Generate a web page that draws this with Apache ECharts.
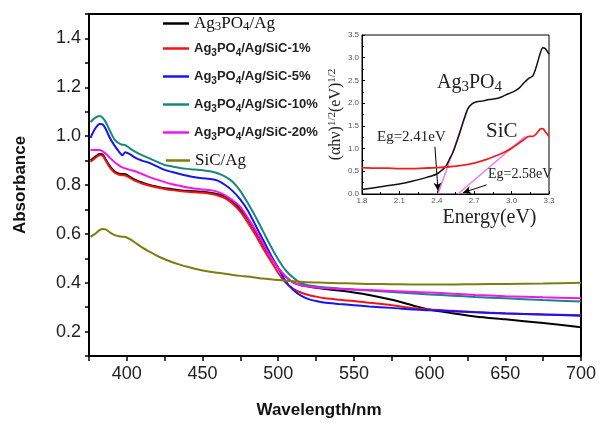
<!DOCTYPE html>
<html><head><meta charset="utf-8">
<script src="https://cdn.jsdelivr.net/npm/echarts@6/dist/echarts.min.js"></script>
<style>html,body{margin:0;padding:0;background:#fff}#c{width:600px;height:424px}</style>
</head><body><div id="c"></div>
<script>
// ---- main chart data ----
const wavelengths = [376,379,382,384,386,389,392,395,397,399,402,406,410,415,420,425,430,435,440,445,450,455,460,465,470,475,480,485,490,495,500,505,510,515,520,525,530,540,550,560,575,590,600,615,630,650,675,700];
const absAg3PO4Ag = [0.90,0.915,0.927,0.925,0.905,0.875,0.855,0.846,0.845,0.844,0.833,0.82,0.81,0.80,0.793,0.787,0.783,0.779,0.776,0.774,0.772,0.768,0.762,0.752,0.732,0.70,0.66,0.61,0.555,0.505,0.46,0.425,0.40,0.39,0.384,0.379,0.375,0.368,0.36,0.35,0.33,0.305,0.29,0.275,0.262,0.25,0.235,0.218];
const absSiC1 = [0.895,0.91,0.922,0.92,0.90,0.87,0.85,0.842,0.84,0.839,0.829,0.816,0.806,0.797,0.79,0.784,0.779,0.775,0.772,0.77,0.768,0.764,0.757,0.745,0.722,0.69,0.645,0.595,0.54,0.49,0.44,0.40,0.375,0.36,0.35,0.343,0.337,0.33,0.325,0.318,0.308,0.295,0.29,0.285,0.28,0.275,0.27,0.267];
const absSiC5 = [0.993,1.03,1.05,1.048,1.03,0.99,0.96,0.935,0.922,0.934,0.926,0.91,0.90,0.89,0.876,0.862,0.853,0.845,0.838,0.832,0.828,0.825,0.818,0.80,0.775,0.74,0.695,0.635,0.575,0.515,0.46,0.405,0.37,0.347,0.333,0.325,0.319,0.313,0.308,0.303,0.297,0.29,0.287,0.283,0.279,0.274,0.27,0.265];
const absSiC10 = [1.058,1.075,1.082,1.075,1.058,1.02,0.985,0.97,0.965,0.963,0.95,0.935,0.922,0.909,0.895,0.882,0.876,0.87,0.866,0.863,0.86,0.856,0.848,0.834,0.812,0.775,0.725,0.67,0.61,0.55,0.495,0.45,0.42,0.398,0.39,0.385,0.381,0.376,0.372,0.368,0.362,0.356,0.352,0.347,0.342,0.336,0.329,0.323];
const absSiC20 = [0.943,0.943,0.943,0.938,0.929,0.91,0.893,0.879,0.872,0.868,0.862,0.855,0.845,0.832,0.822,0.812,0.803,0.797,0.79,0.786,0.782,0.779,0.772,0.758,0.737,0.71,0.665,0.615,0.56,0.505,0.46,0.425,0.40,0.39,0.385,0.38,0.378,0.375,0.372,0.37,0.366,0.362,0.36,0.355,0.35,0.345,0.34,0.336];
const absSiCAg = [0.588,0.60,0.615,0.62,0.618,0.605,0.595,0.59,0.588,0.587,0.578,0.562,0.545,0.527,0.51,0.496,0.484,0.474,0.465,0.457,0.45,0.445,0.441,0.437,0.432,0.428,0.425,0.421,0.417,0.414,0.411,0.408,0.406,0.404,0.402,0.401,0.40,0.398,0.397,0.395,0.394,0.393,0.393,0.393,0.394,0.395,0.397,0.40];
const seriesNames = ['Ag3PO4/Ag','Ag3PO4/Ag/SiC-1%','Ag3PO4/Ag/SiC-5%','Ag3PO4/Ag/SiC-10%','Ag3PO4/Ag/SiC-20%','SiC/Ag'];
const seriesColors = ['#000000','#f51414','#1414f5','#16877c','#f514f0','#7d7d12'];
const seriesValues = [absAg3PO4Ag, absSiC1, absSiC5, absSiC10, absSiC20, absSiCAg];

// ---- inset data ----
const insetEnergyAg3PO4 = [1.80,1.90,2.00,2.10,2.20,2.30,2.35,2.40,2.43,2.46,2.48,2.50,2.53,2.56,2.59,2.62,2.65,2.68,2.72,2.77,2.82,2.88,2.93,2.97,3.02,3.06,3.10,3.14,3.17,3.20,3.23,3.25,3.27,3.30];
const insetAg3PO4 = [0.10,0.14,0.18,0.22,0.28,0.35,0.39,0.44,0.50,0.57,0.64,0.76,0.92,1.15,1.40,1.66,1.88,1.98,2.03,2.05,2.08,2.10,2.15,2.20,2.26,2.33,2.45,2.55,2.60,2.82,3.10,3.22,3.20,3.08];
const insetEnergySiC = [1.80,1.90,2.00,2.10,2.20,2.30,2.40,2.50,2.60,2.70,2.80,2.90,2.95,3.00,3.05,3.10,3.14,3.17,3.20,3.23,3.25,3.27,3.30];
const insetSiC = [0.58,0.57,0.57,0.56,0.56,0.57,0.58,0.60,0.63,0.68,0.76,0.87,0.93,1.01,1.10,1.20,1.27,1.27,1.33,1.43,1.44,1.37,1.27];
const tangentAg3PO4 = [[2.41,0],[2.64,1.80]];
const tangentSiC = [[2.57,0],[3.11,1.27]];
const arrowEg241 = [[2.385,1.04],[2.41,0.07]];
const arrowEg258 = [[2.80,0.20],[2.61,0.03]];

const SERIF = '"Liberation Serif", "Times New Roman", serif';
const SANS = '"Liberation Sans", Arial, sans-serif';

const chart = echarts.init(document.getElementById('c'), null, {renderer:'canvas'});

const mainSeries = seriesNames.map((n,i)=>({
  name: n, type:'line', xAxisIndex:0, yAxisIndex:0, showSymbol:false, symbol:'none',
  data: wavelengths.map((w,k)=>[w, seriesValues[i][k]]),
  lineStyle:{color:seriesColors[i], width:2}, itemStyle:{color:seriesColors[i]},
  smooth:0.3, z:2+i
}));

const legendRowCenters = [25,52,80,108,136,162];
const subRich = {
  b:{fontFamily:SANS, fontWeight:'bold', fontSize:13, color:'#222', lineHeight:20},
  s:{fontFamily:SANS, fontWeight:'bold', fontSize:10, color:'#222', lineHeight:14, verticalAlign:'bottom'}
};
const serifRich = {
  a:{fontFamily:SERIF, fontSize:17, color:'#111', lineHeight:20},
  d:{fontFamily:SERIF, fontSize:13, color:'#111', lineHeight:17, verticalAlign:'bottom'}
};
const legends = seriesNames.map((n,i)=>{
  let fmt, rich;
  if (i===0) { fmt = '{a|Ag}{d|3}{a|PO}{d|4}{a|/Ag}'; rich = serifRich; }
  else if (i===5) { fmt = '{a|SiC/Ag}'; rich = serifRich; }
  else { fmt = '{b|Ag}{s|3}{b|PO}{s|4}{b|' + n.slice(6) + '}'; rich = subRich; }
  return {
    data:[n], left: i===5 ? 166 : 163, top: legendRowCenters[i]-10, padding:0,
    icon:'rect', itemWidth: i===5 ? 24 : 26, itemHeight:2.5, itemGap:0,
    formatter: ()=>fmt, textStyle:{rich: rich}, selectedMode:false
  };
});

const option = {
  animation:false,
  backgroundColor:'#fff',
  grid:[
    {left:89, right:19, top:14, bottom:65, show:true, borderColor:'#000', borderWidth:2, containLabel:false},
    {left:362, top:35, width:187, height:159, show:true, borderColor:'#000', borderWidth:1, backgroundColor:'#fff'}
  ],
  legend: legends,
  xAxis:[
    {gridIndex:0, type:'value', min:375, max:700, interval:25,
     name:'Wavelength/nm', nameLocation:'middle', nameGap:46,
     nameTextStyle:{fontFamily:SANS, fontWeight:'bold', fontSize:17, color:'#111', padding:[0,32,0,0]},
     axisLine:{show:true, lineStyle:{color:'#000', width:2}},
     axisTick:{show:true, length:5, lineStyle:{color:'#000', width:1.5}},
     axisLabel:{fontFamily:SANS, fontSize:18, color:'#222', margin:9,
       formatter:(v)=> (Math.round(v)%50===0 ? String(Math.round(v)) : '')},
     splitLine:{show:false}},
    {gridIndex:1, type:'value', min:1.8, max:3.3, interval:0.3,
     name:'Energy(eV)', nameLocation:'middle', nameGap:14,
     nameTextStyle:{fontFamily:SERIF, fontSize:20, color:'#222', padding:[0,0,0,68]},
     axisLine:{show:true, lineStyle:{color:'#000', width:1}},
     axisTick:{show:true, inside:true, length:3, lineStyle:{color:'#000'}},
     minorTick:{show:true, splitNumber:2, length:2, lineStyle:{color:'#000'}},
     axisLabel:{fontFamily:SANS, fontSize:8, color:'#555', margin:3, formatter:(v)=>v.toFixed(1)},
     splitLine:{show:false}}
  ],
  yAxis:[
    {gridIndex:0, type:'value', min:0.1, max:1.5, interval:0.1,
     name:'Absorbance', nameLocation:'middle', nameGap:60, nameRotate:90,
     nameTextStyle:{fontFamily:SANS, fontWeight:'bold', fontSize:17, color:'#111'},
     axisLine:{show:true, lineStyle:{color:'#000', width:2}},
     axisTick:{show:true, length:4, lineStyle:{color:'#000', width:1.5}},
     axisLabel:{fontFamily:SANS, fontSize:18, color:'#222', margin:8,
       formatter:(v)=> (Math.round(v*10)%2===0 ? v.toFixed(1) : '')},
     splitLine:{show:false}},
    {gridIndex:1, type:'value', min:0, max:3.5, interval:0.5,
     name:'{a|(αhν)}{s|1/2}{a|(eV)}{s|1/2}', nameLocation:'middle', nameGap:12, nameRotate:90,
     nameTextStyle:{rich:{
       a:{fontFamily:SERIF, fontSize:16, color:'#222', lineHeight:18},
       s:{fontFamily:SERIF, fontSize:11, color:'#222', lineHeight:12, verticalAlign:'top'}}},
     axisLine:{show:true, lineStyle:{color:'#000', width:1}},
     axisTick:{show:true, inside:true, length:3, lineStyle:{color:'#000'}},
     minorTick:{show:true, splitNumber:2, length:2, lineStyle:{color:'#000'}},
     axisLabel:{fontFamily:SANS, fontSize:8, color:'#555', margin:3, formatter:(v)=>v.toFixed(1)},
     splitLine:{show:false}}
  ],
  series: mainSeries.concat([
    {name:'inset-Ag3PO4', type:'line', xAxisIndex:1, yAxisIndex:1, symbol:'none', smooth:0.3,
     data: insetEnergyAg3PO4.map((e,k)=>[e, insetAg3PO4[k]]), lineStyle:{color:'#111', width:1.5}, z:5,
     markLine:{silent:true, symbol:['none','arrow'], symbolSize:[6,8], label:{show:false},
       lineStyle:{color:'#000', width:1, type:'solid'},
       data:[[{coord:arrowEg241[0]},{coord:arrowEg241[1]}],[{coord:arrowEg258[0]},{coord:arrowEg258[1]}]]}},
    {name:'inset-SiC', type:'line', xAxisIndex:1, yAxisIndex:1, symbol:'none', smooth:0.3,
     data: insetEnergySiC.map((e,k)=>[e, insetSiC[k]]), lineStyle:{color:'#f02020', width:1.8}, z:5},
    {name:'tangent-Ag3PO4', type:'line', xAxisIndex:1, yAxisIndex:1, symbol:'none',
     data: tangentAg3PO4, lineStyle:{color:'#ee80ee', width:1.5}, z:4},
    {name:'tangent-SiC', type:'line', xAxisIndex:1, yAxisIndex:1, symbol:'none',
     data: tangentSiC, lineStyle:{color:'#ee80ee', width:1.5}, z:4}
  ]),
  graphic:[
    {type:'text', left:437, top:73, z:100, style:{text:'{a|Ag}{d|3}{a|PO}{d|4}', rich:{
       a:{fontFamily:SERIF, fontSize:20, fill:'#222', lineHeight:24},
       d:{fontFamily:SERIF, fontSize:15, fill:'#222', lineHeight:20, verticalAlign:'bottom'}}}},
    {type:'text', left:486, top:121, z:100, style:{text:'SiC', fontFamily:SERIF, fontSize:21, fill:'#222'}},
    {type:'text', left:377, top:130, z:100, style:{text:'Eg=2.41eV', fontFamily:SERIF, fontSize:15, fill:'#222'}},
    {type:'text', left:488, top:167, z:100, style:{text:'Eg=2.58eV', fontFamily:SERIF, fontSize:14, fill:'#222'}}
  ]
};
chart.setOption(option);
</script></body></html>
